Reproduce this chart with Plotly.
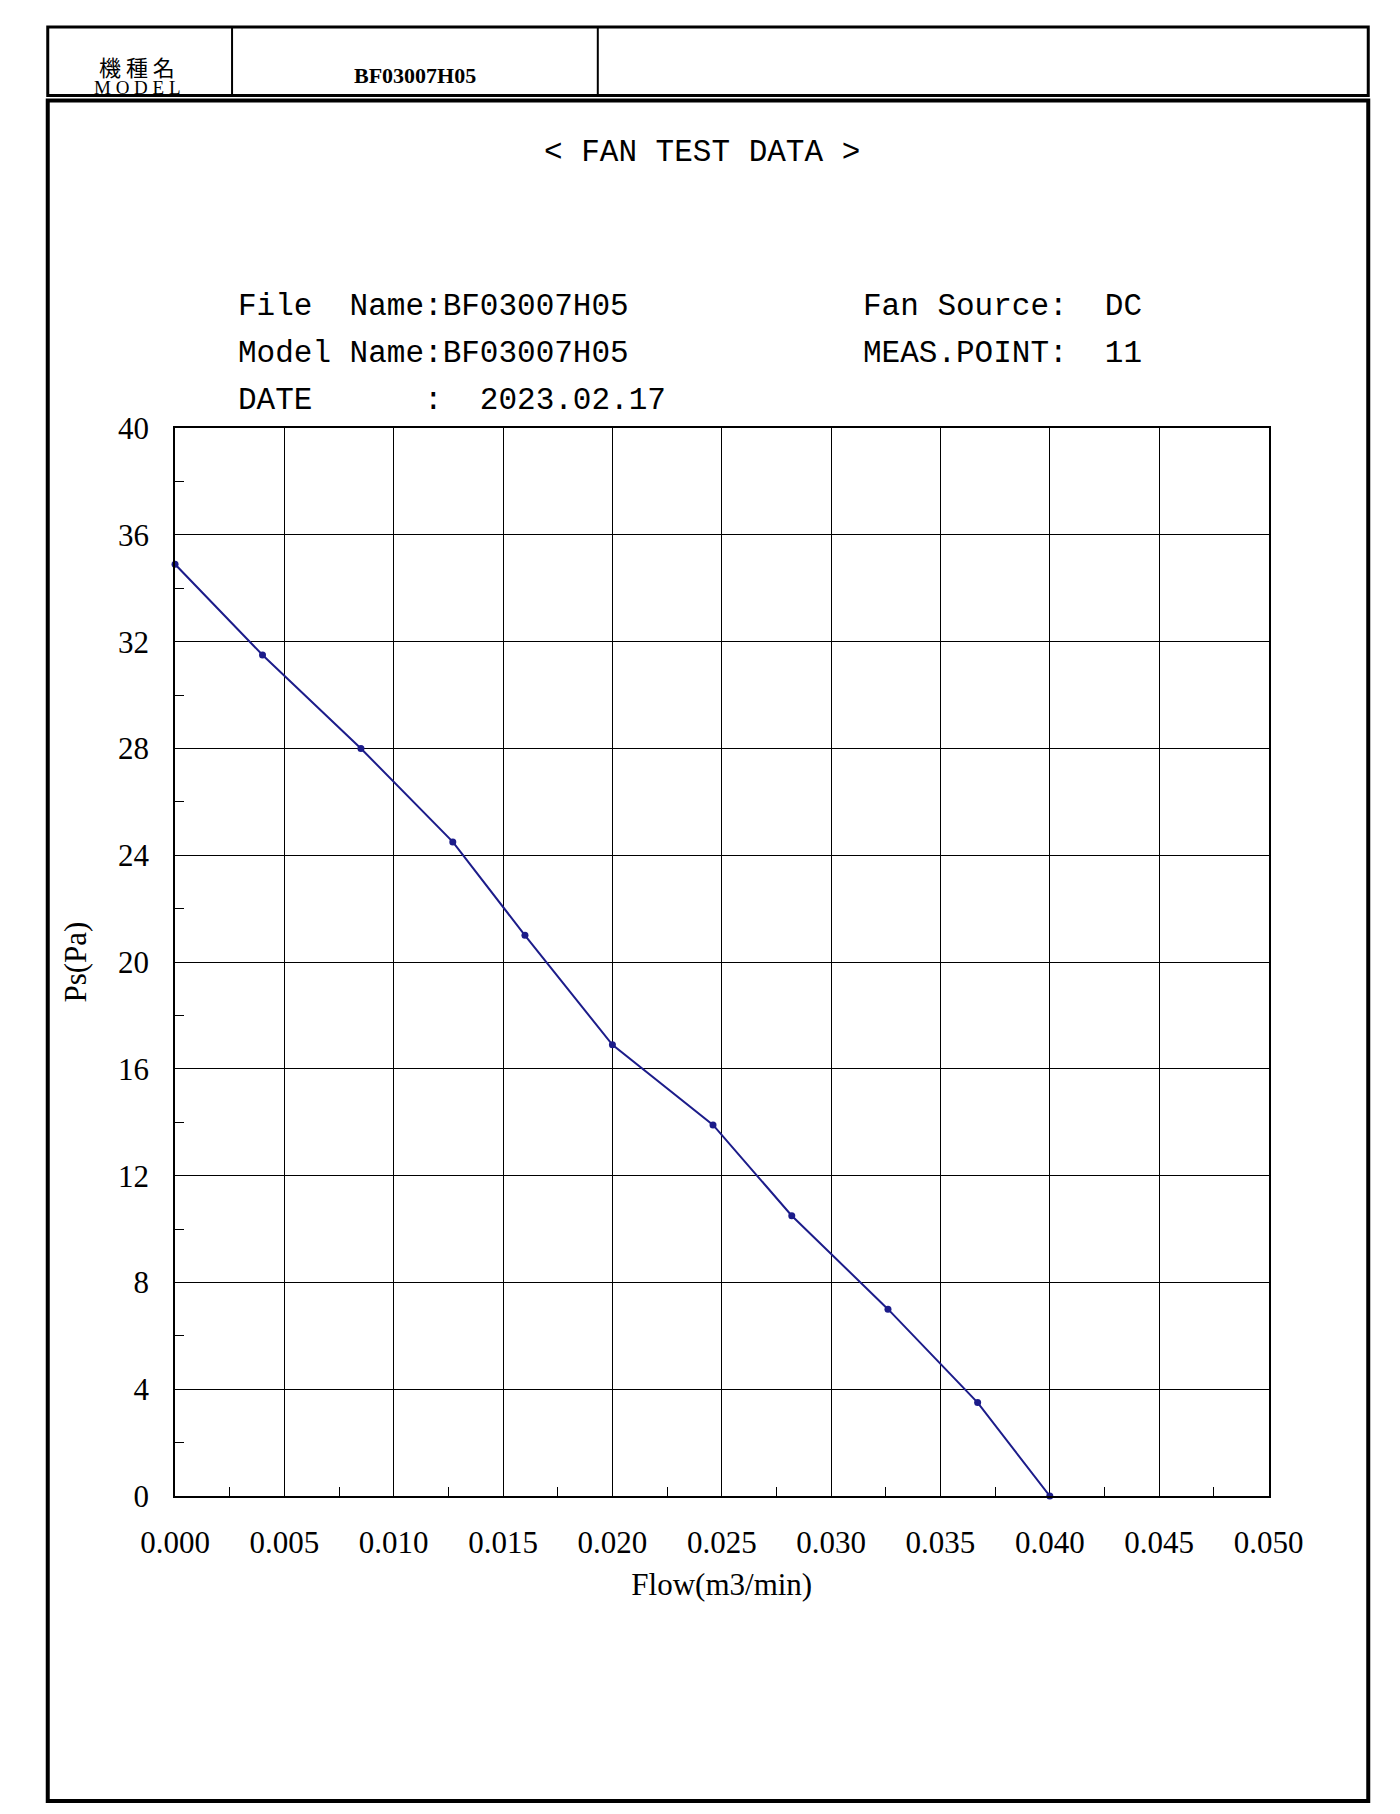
import plotly.graph_objects as go

W, H = 1400, 1814

flow = [0.0, 0.0040, 0.0085, 0.0127, 0.0160, 0.0200, 0.0246, 0.0282, 0.0326, 0.0367, 0.0400]
ps = [34.9, 31.5, 28.0, 24.5, 21.0, 16.9, 13.9, 10.5, 7.0, 3.5, 0.0]

model = "BF03007H05"
info_left = ["File  Name:BF03007H05", "Model Name:BF03007H05", "DATE      :  2023.02.17"]
info_right = ["Fan Source:  DC", "MEAS.POINT:  11"]

MONO = "Liberation Mono, DejaVu Sans Mono, monospace"
SERIF = "Liberation Serif, DejaVu Serif, serif"


def px(x):
    return x / W


def py(y):
    return 1 - y / H


fig = go.Figure()
fig.add_trace(go.Scatter(x=flow, y=ps, mode="lines+markers",
                         line=dict(color="#1c1c8a", width=2),
                         marker=dict(color="#1c1c8a", size=7),
                         showlegend=False, cliponaxis=False))

axis_common = dict(showline=True, linecolor="black", linewidth=1.5, mirror=True,
                   showgrid=True, gridcolor="black", gridwidth=1.2, zeroline=False,
                   ticks="", tickfont=dict(family=SERIF, size=31, color="black"))

fig.update_xaxes(range=[0, 0.05], dtick=0.005, tickformat=".3f",
                 domain=[px(139), px(1290)], ticklabelstandoff=18,
                 minor=dict(dtick=0.0025, ticks="inside", ticklen=9, tickcolor="black", showgrid=False),
                 title=dict(text="Flow(m3/min)", font=dict(family=SERIF, size=31, color="black"), standoff=14),
                 **axis_common)
fig.update_yaxes(range=[0, 40], dtick=4,
                 domain=[py(1500), py(411)], ticklabelstandoff=18,
                 minor=dict(dtick=2, ticks="inside", ticklen=9, tickcolor="black", showgrid=False),
                 title=dict(text="Ps(Pa)", font=dict(family=SERIF, size=31, color="black"), standoff=22),
                 **axis_common)

shapes = []
# header box
shapes.append(dict(type="rect", xref="paper", yref="paper", x0=px(5), x1=px(1395), y0=py(72), y1=py(2),
                   line=dict(color="black", width=3)))
for xv in (199, 584):
    shapes.append(dict(type="line", xref="paper", yref="paper", x0=px(xv), x1=px(xv), y0=py(72), y1=py(2),
                       line=dict(color="black", width=2)))
# main frame
shapes.append(dict(type="rect", xref="paper", yref="paper", x0=px(5), x1=px(1395), y0=py(1811), y1=py(77),
                   line=dict(color="black", width=4)))

ann = []
ann.append(dict(text="機 種 名", x=px(99), y=py(23), font=dict(family="Noto Sans CJK JP", size=22)))
ann.append(dict(text="M O D E L", x=px(99), y=py(51), font=dict(family=SERIF, size=19)))
ann.append(dict(text="<b>" + model + "</b>", x=px(392), y=py(37), font=dict(family=SERIF, size=22)))
ann.append(dict(text="&lt; FAN TEST DATA &gt;", x=px(694), y=py(110), font=dict(family=MONO, size=31)))
for i, t in enumerate(info_left):
    ann.append(dict(text=t.replace(" ", "&nbsp;"), x=px(203), y=py(267 + 48 * i), xanchor="left",
                    font=dict(family=MONO, size=31)))
for i, t in enumerate(info_right):
    ann.append(dict(text=t.replace(" ", "&nbsp;"), x=px(861), y=py(267 + 48 * i), xanchor="left",
                    font=dict(family=MONO, size=31)))
for a in ann:
    a.update(xref="paper", yref="paper", showarrow=False)
    a.setdefault("xanchor", "center")
    a["font"]["color"] = "black"

fig.update_layout(width=W, height=H, margin=dict(l=0, r=0, t=0, b=0),
                  plot_bgcolor="white", paper_bgcolor="white",
                  shapes=shapes, annotations=ann)

fig.write_html("out.html")
